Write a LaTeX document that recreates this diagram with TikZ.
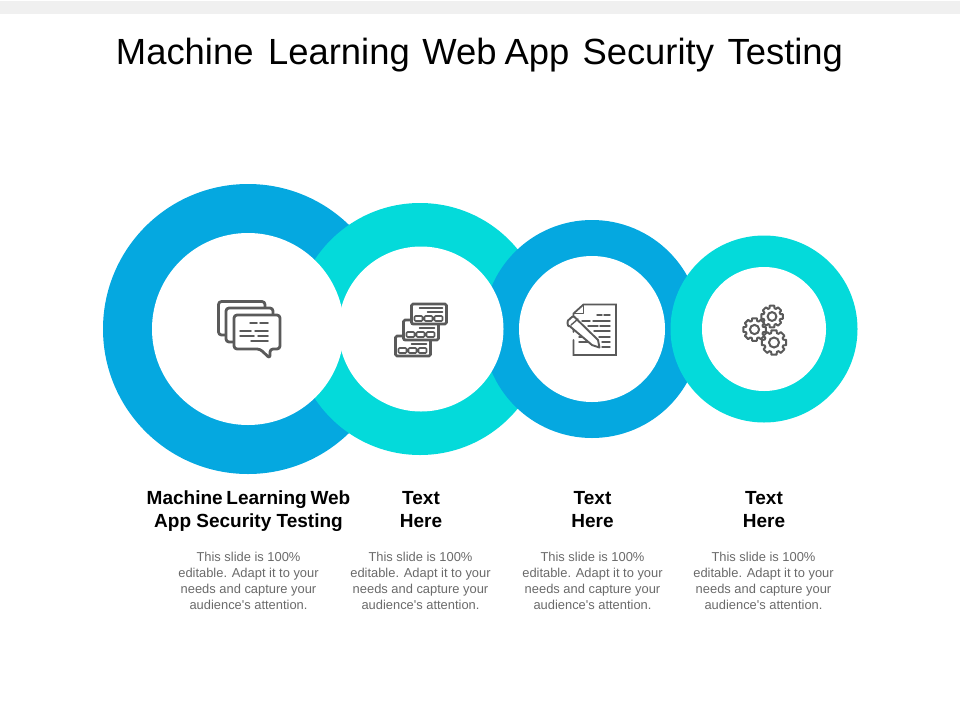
\documentclass[tikz,border=0pt]{standalone}
\usepackage{fontspec}
\setmainfont{Liberation Sans}
\newfontfamily\plainsans{Liberation Sans}
\usetikzlibrary{calc}
\definecolor{ringblue}{HTML}{05A8E0}
\definecolor{ringcyan}{HTML}{04DADA}
\definecolor{icongray}{HTML}{5A5A5A}
\definecolor{bodygray}{HTML}{6A6A6A}
\definecolor{bandgray}{HTML}{F0F0F0}
\tikzset{
  disc/.style={circle,inner sep=0pt,outer sep=0pt,minimum size=#1},
  ringa/.style={disc=#1,fill=ringblue},
  ringb/.style={disc=#1,fill=ringcyan},
  hole/.style={disc=#1,fill=white},
  titletext/.style={font=\fontsize{36.4}{42}\selectfont,text=black,inner sep=0pt},
  headtext/.style={font=\fontsize{19}{23}\selectfont\bfseries,text=black,align=center,inner sep=0pt},
  bodytext/.style={font=\plainsans\fontsize{12.9}{16}\selectfont,text=bodygray,align=center,inner sep=0pt},
  iconline/.style={draw=icongray,line width=#1,line join=round,line cap=round},
  iconline/.default=2pt,
}
\newcommand{\gearshape}[3]{%
  \filldraw[fill=white,draw=icongray,line width=2pt,line join=round]
    (#1,#2) ++(-12:#3) \foreach \a in {0,45,...,315}{
      -- ($(#1,#2)+(\a-12:#3)$) -- ($(#1,#2)+(\a+12:#3)$)
      -- ($(#1,#2)+(\a+17:#3*0.78)$) -- ($(#1,#2)+(\a+28:#3*0.78)$)
    } -- cycle;
  \draw[icongray,line width=2pt] (#1,#2) circle ({#3*0.4});
}
\newcommand{\cardshape}[2]{%
  \begin{scope}[shift={(#1,#2)}]
    \filldraw[fill=white,iconline=2.8pt,rounded corners=1.5pt] (0,0) rectangle (35,20);
    \draw[iconline=1.5pt] (8,4) -- (31,4) (16,8) -- (31,8);
    \draw[iconline=1.7pt,rounded corners=1pt] (3,12) rectangle (11,17) (13,12) rectangle (21,17) (23,12) rectangle (31,17);
  \end{scope}
}
\begin{document}
\begin{tikzpicture}[x=1pt,y=-1pt]
\useasboundingbox (0,0) rectangle (960,720);
\fill[bandgray] (0,1) rectangle (960,14);
\node[titletext] (title) at (479.5,55) {Machine\hspace{4.5pt} Learning\hspace{2.5pt} Web\hspace{-2pt} App\hspace{3pt} Security\hspace{3.5pt} Testing};

\node[ringa=290pt] (r1) at (248,329) {};
\node[ringb=252pt] (r2) at (420,329) {};
\node[ringa=218pt] (r3) at (592,329) {};
\node[ringb=187pt] (r4) at (764,329) {};
\node[hole=192pt] (h1) at (r1) {};
\node[hole=165pt] (h2) at (421,329) {};
\node[hole=146pt] (h3) at (r3) {};
\node[hole=124pt] (h4) at (r4) {};

% chat icon
\filldraw[fill=white,iconline=2.8pt,rounded corners=3pt] (218.5,301.5) rectangle (265,335);
\filldraw[fill=white,iconline=2.8pt,rounded corners=3pt] (226,308) rectangle (273,342);
\filldraw[fill=white,iconline=2.8pt,rounded corners=3pt] (234,315) -- (280,315) -- (280,349) -- (270,349) -- (270,358.5) -- (260,349) -- (234,349) -- cycle;
\draw[iconline=1.5pt] (250,323) -- (257,323) (260,323) -- (268,323)
  (240,331) -- (251,331) (255,331) -- (268,331)
  (240,336) -- (254,336) (258,336) -- (268,336)
  (251,341) -- (268,341);

% cards icon
\cardshape{395.5}{336}
\cardshape{403.5}{320}
\cardshape{411.5}{304}

% document icon
\draw[iconline=1.8pt,line join=miter] (573.5,332) -- (573.5,313.5) -- (583.5,304.5) -- (616,304.5) -- (616,355) -- (573.5,355) -- (573.5,340);
\draw[iconline=1.3pt] (583.5,305) -- (583.5,313.5) -- (574,313.5);
\draw[iconline=1.4pt] (597,315) -- (602,315) (604,315) -- (610,315)
  (582,321) -- (590,321) (593,321) -- (610,321)
  (588,326) -- (598,326) (600,326) -- (610,326)
  (594,331) -- (610,331)
  (599,337) -- (610,337)
  (579,337) -- (586,337)
  (579,342) -- (593,342) (602,342) -- (610,342)
  (602,347) -- (610,347);
\filldraw[fill=white,iconline=1.9pt] (568,320.5) -- (572.5,316.5) to[out=10,in=130] (576,318.5) -- (598,340) -- (599.5,347.5) -- (592,345) -- (569.5,326) to[out=225,in=240] cycle;
\draw[iconline=1.4pt] (571,325) -- (578,319);

% gears icon
\gearshape{772}{316.5}{11}
\gearshape{754.5}{329.5}{11.5}
\gearshape{774}{342.5}{12.5}

\node[headtext] (h1t) at (248.5,511.5) {Machine\hspace{-1.5pt} Learning\hspace{-1.5pt} Web\\App Security Testing};
\node[headtext] (h2t) at (421,509.5) {Text\\Here};
\node[headtext] (h3t) at (592.5,509.5) {Text\\Here};
\node[headtext] (h4t) at (764,509.5) {Text\\Here};
\foreach \n/\x in {b1/248.5,b2/420.5,b3/592.5,b4/763.5}{
  \node[bodytext] (\n) at (\x,581) {This slide is 100\%\\editable. Adapt it to your\\needs and capture your\\audience's attention.};
}
\end{tikzpicture}
\end{document}
